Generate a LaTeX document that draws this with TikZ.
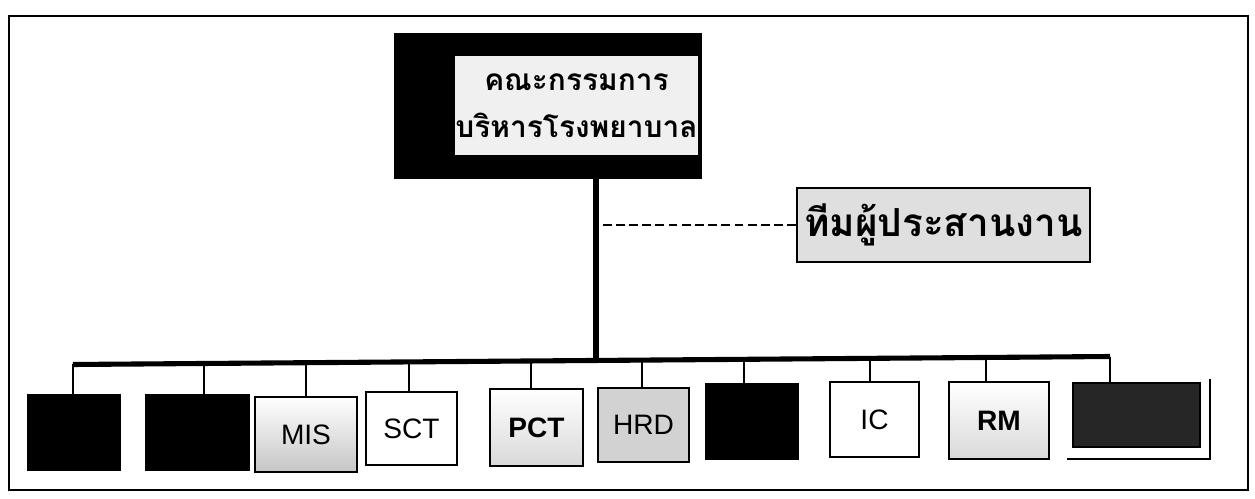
\documentclass[tikz,border=0pt]{standalone}
\usepackage{fontspec}
\usepackage{tikz}
\usetikzlibrary{calc}
\newfontfamily\thaifont[Script=Thai]{Loma}
\newfontfamily\labelfont{Liberation Sans}

\begin{document}
\begin{tikzpicture}[x=0.02cm,y=-0.02cm,
    unit/.style={draw=black,line width=1.1pt,inner sep=0pt,
      font=\labelfont\fontsize{16}{18}\selectfont},
    thick line/.style={line width=2.9pt},
    drop line/.style={line width=1.6pt}]

  \useasboundingbox (0,0) rectangle (1255,499);

  % outer frame
  \draw[line width=1.6pt] (9,16) rectangle (1248,490);

  % board of the hospital
  \node[fill=black,draw=black,inner sep=0pt,
    minimum width={307*0.02cm},minimum height={145*0.02cm}] (board) at (547.5,105.5) {};
  \node[fill=gray!12,inner sep=0pt,align=center,
    minimum width={237*0.02cm},minimum height={99*0.02cm},
    font=\thaifont\bfseries\fontsize{17}{27}\selectfont] (boardin) at (576.5,105.5)
    {คณะกรรมการ\\บริหารโรงพยาบาล};

  % coordinating team
  \node[draw=black,line width=1.1pt,fill=gray!25,inner sep=0pt,
    minimum width={293*0.02cm},minimum height={74*0.02cm},
    font=\thaifont\bfseries\fontsize{22}{24}\selectfont] (team) at (943.5,225) {ทีมผู้ประสานงาน};

  % draw the units and their drops
  \foreach \n/\cx/\cy/\w/\h/\dx/\tc/\bc/\txt in {
      1/74/432.5/92/75/73/black/black/{},
      2/197.5/432.5/103/75/204/black/black/{},
      3/306/434.5/102/75/306/white/gray!45/{MIS},
      4/411.5/428.5/91/73/409/white/white/{SCT},
      5/536.5/427.5/93/77/531/white/gray!30/{\bfseries PCT},
      6/643.5/425/91/74/642/gray!35/gray!35/{HRD},
      7/752/421.5/92/75/744/black/black/{},
      8/874.5/419.5/89/75/870/white/white/{IC},
      9/999/420.5/100/77/986/white/gray!30/{\bfseries RM},
      10/1136.5/415/127/64/1110/black!85/black!85/{}}
  {
    \node[unit,top color=\tc,bottom color=\bc,
      minimum width={\w*0.02cm},minimum height={\h*0.02cm}] (box\n) at (\cx,\cy) {\txt};
    \coordinate (b\n) at (\dx,{364.5-0.0077*(\dx-73)});
    \draw[drop line] (b\n) -- (b\n |- box\n.north);
  }

  % shadow of the last unit
  \draw[line width=1.3pt] ($(box10.south west)+(-5,11)$) -- ($(box10.south east)+(9,11)$)
    -- ($(box10.north east)+(9,-3)$);

  % main trunk and bus
  \coordinate (trunk) at (596,360.5);
  \draw[thick line] (b1) -- (b10);
  \draw[thick line] (board.south -| trunk) -- (trunk);

  % dashed link to the team
  \draw[line width=1.3pt,dash pattern=on 5pt off 2.5pt] (team.west) -- (team.west -| trunk);
\end{tikzpicture}
\end{document}
